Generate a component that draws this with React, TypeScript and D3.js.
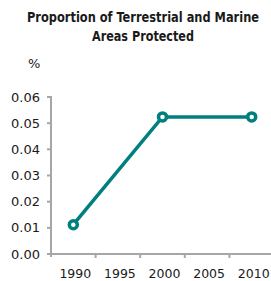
import React from "react";
import * as d3 from "d3";

const years = ["1990", "1995", "2000", "2005", "2010"];
const pointYears = ["1990", "2000", "2010"];
const values = [0.0112, 0.0524, 0.0524];
const yTicks = [0, 0.01, 0.02, 0.03, 0.04, 0.05, 0.06];
const titleLines = ["Proportion of Terrestrial and Marine", "Areas Protected"];
const titleWidths = [232, 102];
const unitLabel = "%";

export default function App() {
  const W = 271, H = 281;
  const x = d3.scaleBand<string>().domain(years).range([51, 274]);
  const y = d3.scaleLinear().domain([0, 0.06]).range([254, 97]);
  const pts = pointYears.map((yr, i) => ({ yr, v: values[i] }));
  const line = d3.line<{ yr: string; v: number }>()
    .x(d => (x(d.yr) as number) + x.bandwidth() / 2)
    .y(d => y(d.v));
  const teal = "#007f7f";
  const axisCol = "#a6a6a6";
  const tickFont = "'DejaVu Sans', sans-serif";
  return (
    <svg width={W} height={H} style={{ position: "absolute", left: 0, top: 0, background: "#fff" }}>
      {titleLines.map((t, i) => (
        <text key={i} x={143} y={22 + i * 19} textAnchor="middle"
          textLength={titleWidths[i]} lengthAdjust="spacingAndGlyphs"
          style={{ fontFamily: "'DejaVu Sans Condensed', 'DejaVu Sans', sans-serif", fontWeight: 700, fontSize: 14, fill: "#1a1a1a" }}>
          {t}
        </text>
      ))}
      <text x={28} y={68} style={{ fontFamily: tickFont, fontSize: 13, fill: "#1a1a1a" }}>{unitLabel}</text>
      {yTicks.map(t => (
        <g key={t}>
          <line x1={47} x2={51} y1={y(t)} y2={y(t)} stroke={axisCol} strokeWidth={2} />
          <text x={40} y={y(t)} dy="0.35em" textAnchor="end"
            style={{ fontFamily: tickFont, fontSize: 13, fill: "#1a1a1a" }}>
            {t.toFixed(2)}
          </text>
        </g>
      ))}
      {years.map((yr) => (
        <g key={yr}>
          <line x1={(x(yr) as number) + x.bandwidth()} x2={(x(yr) as number) + x.bandwidth()} y1={254} y2={258}
            stroke={axisCol} strokeWidth={2} />
          <text x={(x(yr) as number) + x.bandwidth() / 2 + 2} y={278}
            textAnchor="middle" style={{ fontFamily: tickFont, fontSize: 12.5, fill: "#1a1a1a" }}>
            {yr}
          </text>
        </g>
      ))}
      <line x1={51} x2={51} y1={96} y2={257} stroke={axisCol} strokeWidth={2} />
      <line x1={50} x2={274} y1={254} y2={254} stroke={axisCol} strokeWidth={2} />
      <path d={line(pts) || ""} fill="none" stroke={teal} strokeWidth={3.5} />
      {pts.map(p => (
        <circle key={p.yr} cx={(x(p.yr) as number) + x.bandwidth() / 2} cy={y(p.v)} r={4}
          fill="#fff" stroke={teal} strokeWidth={3.5} />
      ))}
    </svg>
  );
}
